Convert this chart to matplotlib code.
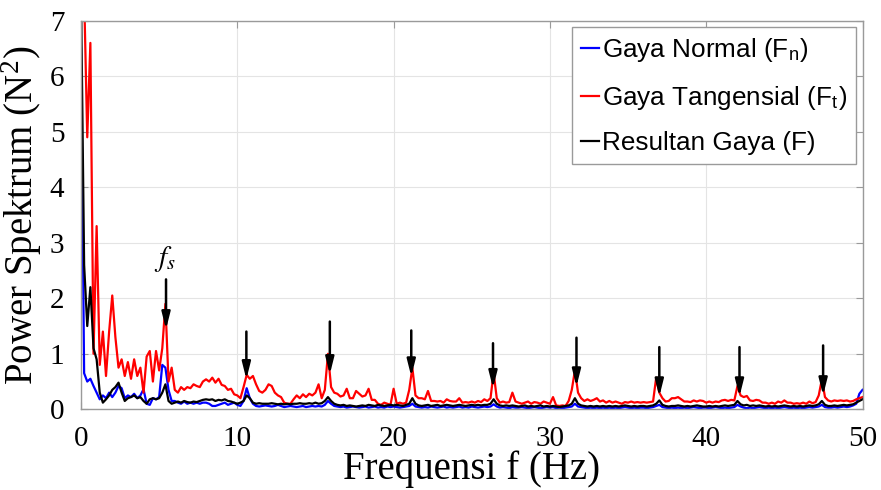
import numpy as np
import matplotlib
matplotlib.use("Agg")
import matplotlib.pyplot as plt

DF = 0.2  # frequency step (Hz)

gaya_normal = [
    6.5, 0.65, 0.5, 0.55, 0.42, 0.3, 0.18, 0.25, 0.2, 0.3,
    0.22, 0.3, 0.42, 0.38, 0.2, 0.25, 0.22, 0.28, 0.2, 0.25,
    0.36, 0.1, 0.08, 0.2, 0.18, 0.22, 0.8, 0.75, 0.35, 0.15,
    0.15, 0.12, 0.1, 0.14, 0.1, 0.12, 0.1, 0.12, 0.1, 0.12,
    0.12, 0.1, 0.06, 0.06, 0.08, 0.1, 0.12, 0.08, 0.1, 0.12,
    0.08, 0.06, 0.15, 0.38, 0.2, 0.1, 0.06, 0.05, 0.06, 0.07,
    0.06, 0.05, 0.06, 0.08, 0.06, 0.04, 0.05, 0.06, 0.05, 0.04,
    0.05, 0.06, 0.04, 0.05, 0.06, 0.05, 0.06, 0.05, 0.08, 0.15,
    0.1, 0.06, 0.05, 0.04, 0.05, 0.03, 0.04, 0.05, 0.04, 0.03,
    0.04, 0.05, 0.03, 0.04, 0.05, 0.03, 0.04, 0.03, 0.05, 0.04,
    0.05, 0.04, 0.03, 0.04, 0.05, 0.06, 0.1, 0.05, 0.04, 0.03,
    0.04, 0.03, 0.05, 0.04, 0.03, 0.04, 0.05, 0.03, 0.04, 0.03,
    0.04, 0.05, 0.03, 0.04, 0.03, 0.05, 0.04, 0.03, 0.04, 0.05,
    0.04, 0.05, 0.09, 0.05, 0.03, 0.04, 0.03, 0.02, 0.04, 0.03,
    0.03, 0.04, 0.03, 0.02, 0.03, 0.04, 0.03, 0.02, 0.03, 0.04,
    0.03, 0.04, 0.02, 0.03, 0.02, 0.03, 0.04, 0.05, 0.1, 0.05,
    0.04, 0.03, 0.02, 0.03, 0.02, 0.03, 0.02, 0.03, 0.02, 0.03,
    0.02, 0.03, 0.02, 0.03, 0.04, 0.03, 0.02, 0.03, 0.02, 0.03,
    0.03, 0.02, 0.03, 0.04, 0.06, 0.08, 0.04, 0.03, 0.02, 0.03,
    0.02, 0.03, 0.02, 0.03, 0.02, 0.03, 0.04, 0.03, 0.02, 0.03,
    0.03, 0.02, 0.03, 0.04, 0.03, 0.02, 0.03, 0.02, 0.03, 0.04,
    0.08, 0.05, 0.03, 0.02, 0.03, 0.02, 0.03, 0.04, 0.03, 0.02,
    0.03, 0.02, 0.03, 0.02, 0.03, 0.04, 0.03, 0.02, 0.03, 0.02,
    0.03, 0.02, 0.03, 0.04, 0.03, 0.04, 0.05, 0.08, 0.04, 0.03,
    0.03, 0.04, 0.03, 0.04, 0.05, 0.04, 0.05, 0.07, 0.1, 0.28,
    0.35,
]

gaya_tangensial = [
    7.5, 7.5, 4.9, 6.6, 1.0, 3.3, 0.8, 1.4, 0.6, 1.4,
    2.05, 1.3, 0.75, 0.9, 0.6, 0.85, 0.55, 0.9, 0.6, 0.75,
    0.3, 0.95, 1.05, 0.5, 1.05, 0.7, 1.1, 1.9, 0.5, 0.75,
    0.35, 0.3, 0.4, 0.35, 0.4, 0.38, 0.45, 0.42, 0.4, 0.5,
    0.54, 0.5, 0.57, 0.48, 0.55, 0.44, 0.42, 0.35, 0.37, 0.27,
    0.25, 0.2, 0.4, 0.62, 0.55, 0.6, 0.45, 0.33, 0.3, 0.35,
    0.45, 0.42, 0.3, 0.25, 0.22, 0.12, 0.1, 0.1, 0.18, 0.25,
    0.2, 0.27, 0.22, 0.28, 0.25, 0.3, 0.45, 0.2, 0.35, 1.0,
    0.4, 0.3, 0.28, 0.23, 0.25, 0.37, 0.2, 0.2, 0.33, 0.28,
    0.23, 0.25, 0.37, 0.17, 0.17, 0.1, 0.08, 0.12, 0.1, 0.08,
    0.37, 0.1, 0.12, 0.1, 0.12, 0.35, 0.75, 0.25, 0.2, 0.2,
    0.18, 0.33, 0.15, 0.15, 0.14, 0.15, 0.12, 0.18, 0.15, 0.14,
    0.14, 0.2, 0.12, 0.13, 0.12, 0.14, 0.12, 0.15, 0.13, 0.18,
    0.15, 0.2, 0.66, 0.2, 0.12, 0.14, 0.12, 0.13, 0.3, 0.14,
    0.12, 0.1, 0.12, 0.14, 0.1, 0.13, 0.12, 0.1, 0.14, 0.12,
    0.1, 0.22, 0.07, 0.06, 0.07, 0.06, 0.15, 0.35, 0.7, 0.3,
    0.2, 0.15, 0.18, 0.15, 0.17, 0.2, 0.14, 0.16, 0.12, 0.15,
    0.12, 0.14, 0.12, 0.1, 0.13, 0.12, 0.14, 0.12, 0.13, 0.12,
    0.13, 0.12, 0.13, 0.14, 0.57, 0.3, 0.2, 0.14, 0.15, 0.2,
    0.2, 0.22, 0.18, 0.14, 0.14, 0.13, 0.16, 0.14, 0.16, 0.15,
    0.12, 0.14, 0.12, 0.14, 0.13, 0.16, 0.17, 0.15, 0.17, 0.16,
    0.42, 0.25, 0.22, 0.24, 0.16, 0.15, 0.17, 0.16, 0.12, 0.12,
    0.1, 0.12, 0.1, 0.14, 0.12, 0.16, 0.12, 0.12, 0.1, 0.11,
    0.1, 0.12, 0.1, 0.14, 0.11, 0.13, 0.25, 0.54, 0.22, 0.16,
    0.14, 0.16, 0.15, 0.16, 0.15, 0.16, 0.14, 0.15, 0.18, 0.2,
    0.22,
]

resultan_gaya = [
    7.5, 2.6, 1.5, 2.2, 1.1, 0.9, 0.3, 0.12, 0.18, 0.25,
    0.35, 0.4, 0.48, 0.3, 0.15, 0.2, 0.22, 0.25, 0.2, 0.22,
    0.15, 0.1, 0.18, 0.2, 0.18, 0.2, 0.3, 0.45, 0.15, 0.1,
    0.12, 0.14, 0.12, 0.15, 0.13, 0.12, 0.14, 0.13, 0.15, 0.17,
    0.18, 0.17, 0.18, 0.15, 0.17, 0.16, 0.18, 0.15, 0.14, 0.12,
    0.1, 0.12, 0.15, 0.25, 0.2, 0.12, 0.1, 0.11, 0.1, 0.1,
    0.1, 0.11, 0.1, 0.09, 0.1, 0.09, 0.1, 0.09, 0.1, 0.1,
    0.11, 0.1, 0.1, 0.11, 0.1, 0.12, 0.1, 0.11, 0.15, 0.22,
    0.15, 0.1, 0.08, 0.07, 0.08, 0.06, 0.07, 0.06, 0.05, 0.06,
    0.07, 0.06, 0.08, 0.07, 0.06, 0.08, 0.07, 0.06, 0.07, 0.08,
    0.07, 0.08, 0.07, 0.06, 0.08, 0.1, 0.2, 0.1, 0.07, 0.06,
    0.07, 0.08, 0.06, 0.07, 0.08, 0.06, 0.07, 0.08, 0.07, 0.06,
    0.07, 0.08, 0.07, 0.06, 0.07, 0.08, 0.07, 0.08, 0.07, 0.08,
    0.08, 0.1, 0.18, 0.1, 0.07, 0.06, 0.07, 0.06, 0.07, 0.06,
    0.05, 0.06, 0.07, 0.05, 0.06, 0.05, 0.06, 0.07, 0.05, 0.06,
    0.05, 0.06, 0.05, 0.04, 0.05, 0.06, 0.07, 0.1, 0.2, 0.1,
    0.07, 0.06, 0.05, 0.06, 0.05, 0.06, 0.05, 0.06, 0.05, 0.06,
    0.05, 0.06, 0.05, 0.06, 0.07, 0.06, 0.05, 0.06, 0.05, 0.06,
    0.06, 0.05, 0.06, 0.07, 0.1, 0.16, 0.08, 0.06, 0.05, 0.06,
    0.06, 0.07, 0.06, 0.05, 0.06, 0.05, 0.06, 0.07, 0.06, 0.05,
    0.05, 0.06, 0.05, 0.06, 0.05, 0.06, 0.07, 0.06, 0.07, 0.08,
    0.15, 0.09, 0.07, 0.08, 0.06, 0.07, 0.06, 0.07, 0.06, 0.05,
    0.06, 0.05, 0.06, 0.05, 0.06, 0.07, 0.06, 0.05, 0.06, 0.05,
    0.06, 0.05, 0.06, 0.07, 0.06, 0.07, 0.09, 0.15, 0.08, 0.06,
    0.06, 0.07, 0.06, 0.07, 0.08, 0.07, 0.08, 0.09, 0.12, 0.15,
    0.18,
]

labels = ["Gaya Normal (F$_\\mathregular{n}$)",
          "Gaya Tangensial (F$_\\mathregular{t}$)",
          "Resultan Gaya (F)"]
colors = ["#0000ff", "#ff0000", "#000000"]

# harmonic arrows (annotations)
arrow_x = [5.44, 10.58, 15.92, 21.13, 26.36, 31.7, 37.0, 42.13, 47.48]
arrow_top = [2.34, 1.40, 1.58, 1.42, 1.19, 1.29, 1.12, 1.12, 1.15]
arrow_tip = [1.44, 0.54, 0.63, 0.59, 0.38, 0.41, 0.23, 0.23, 0.25]

xticks = [0, 10, 20, 30, 40, 50]
yticks = [0, 1, 2, 3, 4, 5, 6, 7]

plt.rcParams["mathtext.fontset"] = "stix"

fig = plt.figure(figsize=(8.81, 4.90), dpi=100)
ax = fig.add_axes([81 / 881, 1 - 409.3 / 490, (862.5 - 81) / 881, (409.3 - 20.7) / 490])

for series, lab, col in zip([gaya_normal, gaya_tangensial, resultan_gaya], labels, colors):
    f = np.arange(len(series)) * DF
    ax.plot(f, series, color=col, lw=1.6, label=lab)

for x, top, tip in zip(arrow_x, arrow_top, arrow_tip):
    ax.annotate("", xy=(x, tip), xytext=(x, top),
                arrowprops=dict(arrowstyle="-|>,head_length=1.0,head_width=0.25",
                                color="black", lw=1.8, shrinkA=0, shrinkB=0))

ax.text(arrow_x[0] - 0.1, arrow_top[0] + 0.1, r"$f_s$", fontsize=21,
        ha="center", va="bottom", color="black")

ax.set_xlim(0, 50)
ax.set_ylim(0, 7)
ax.set_xticks(xticks)
ax.set_yticks(yticks)
ax.grid(True, color="#e4e4e4", lw=0.8)
ax.set_axisbelow(True)
for sp in ax.spines.values():
    sp.set_color("#9a9a9a")
    sp.set_linewidth(1.0)
ax.tick_params(direction="in", length=5, color="#9a9a9a", top=True, right=True,
               labelsize=21, pad=12)
for lbl in ax.get_xticklabels() + ax.get_yticklabels():
    lbl.set_family("Liberation Serif")

ax.set_xlabel("Frequensi f (Hz)", family="Liberation Serif", fontsize=28, labelpad=-1)
ax.set_ylabel("Power Spektrum (N$^\\mathregular{2}$)", family="Liberation Serif",
              fontsize=28, labelpad=4)

leg = ax.legend(loc="upper right", bbox_to_anchor=(856 / 881, 1 - 27 / 490),
                bbox_transform=fig.transFigure,
                prop=dict(family="Liberation Sans", size=18.8),
                handlelength=0.7, handletextpad=0.1, labelspacing=0.75,
                borderpad=0.35, borderaxespad=0, fancybox=False, framealpha=1)
leg.get_frame().set_edgecolor("#9a9a9a")
leg.get_frame().set_linewidth(1.0)

fig.savefig("out.png", dpi=100)
